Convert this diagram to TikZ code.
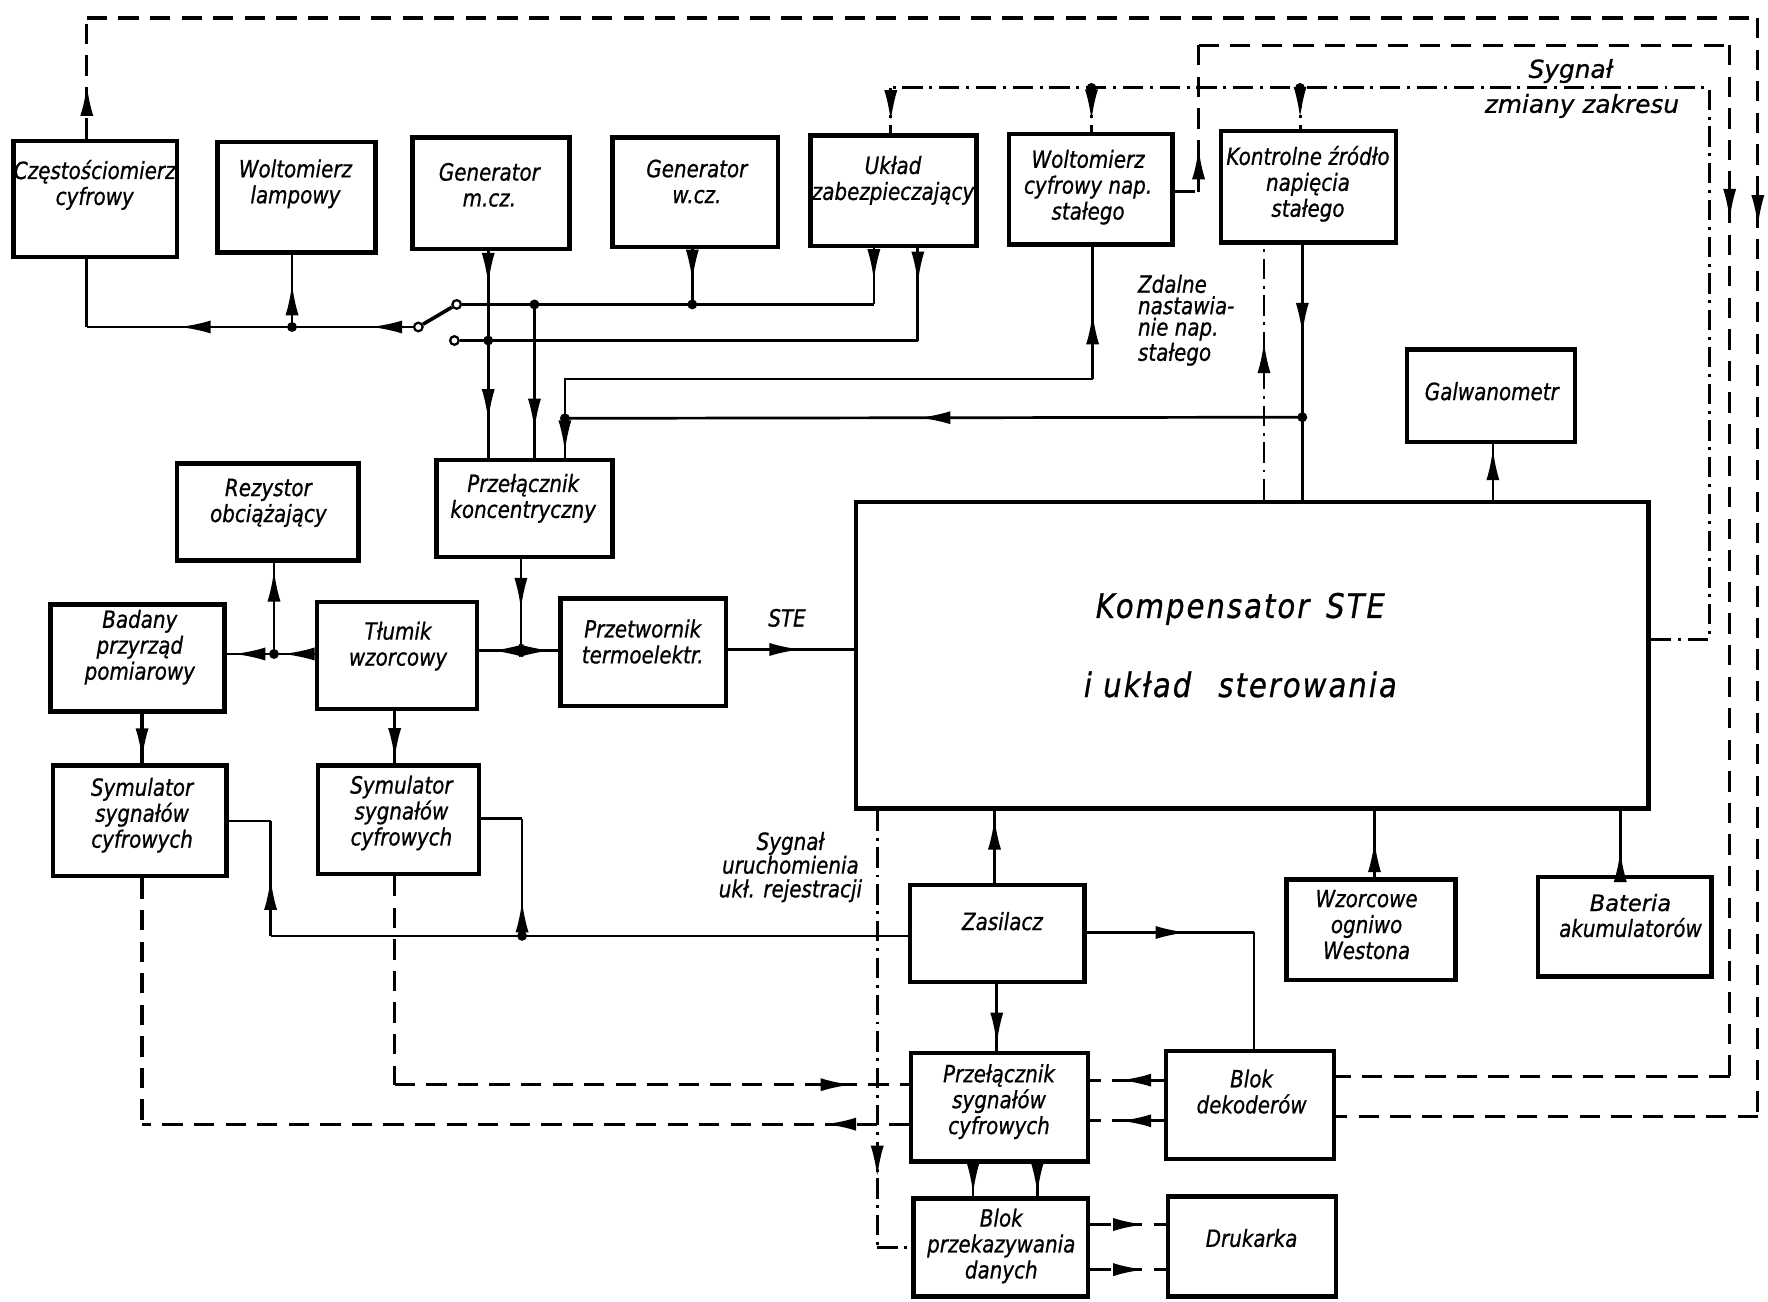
\documentclass[tikz,border=0pt]{standalone}
\usepackage{fontspec}
\newfontfamily\lab{DejaVu Sans}[FakeStretch=0.84,FakeBold=0.8]
\newfontfamily\labw{DejaVu Sans}[FakeBold=0.8]
\newfontfamily\labbig{DejaVu Sans}[FakeStretch=0.86,LetterSpace=6,FakeBold=0.8]
\usetikzlibrary{arrows.meta,decorations.markings}

\tikzset{
  box/.style={draw, rectangle, line width=2pt, inner sep=0pt},
  txt/.style={font=\lab\itshape\fontsize{10.5}{11.5}\selectfont, align=center, inner sep=0pt},
  txtw/.style={font=\labw\itshape\fontsize{11}{13}\selectfont, align=center, inner sep=0pt},
  conn/.style={line width=1.2pt},
  dsh/.style={line width=1.4pt, dash pattern=on 9pt off 5pt},
  dd/.style={line width=1.3pt, dash pattern=on 9pt off 3pt on 1.3pt off 3pt},
  ar/.style={postaction={decorate}, decoration={markings, mark=at position #1 with {\arrow{Latex[length=14pt,width=5.8pt]}}}},
  ar2/.style 2 args={postaction={decorate}, decoration={markings,
     mark=at position #1 with {\arrow{Latex[length=14pt,width=5.8pt]}},
     mark=at position #2 with {\arrow{Latex[length=14pt,width=5.8pt]}}}},
  jdot/.style={circle, fill=black, inner sep=0pt, minimum size=4.4pt},
  ocirc/.style={circle, draw, line width=1pt, fill=white, inner sep=0pt, minimum size=3.8pt},
}

\newcommand\bx[8]{%
  \node[box, minimum width={(#4-#2)*0.5pt}, minimum height={(#5-#3)*0.5pt}] (#1) at ({(#2+#4)/2},{(#3+#5)/2}) {};
  \node[txt] (#1t) at (#6,#7) {#8};}

\begin{document}
\begin{tikzpicture}[x=0.5pt,y=-0.5pt]
\useasboundingbox (0,0) rectangle (1568,1154);
\fill[white] (0,0) rectangle (1568,1154);

% ---------- boxes ----------
\bx{cz}{12}{125}{157}{228}{84}{164}{Częstościomierz\\cyfrowy}
\bx{wl}{193}{126}{333}{224}{262}{163}{Woltomierz\\lampowy}
\bx{gm}{366}{122}{505}{221}{434}{164}{Generator\\m.cz.}
\bx{gw}{543}{122}{690}{219}{618}{161}{Generator\\w.cz.}
\bx{uz}{719}{120}{866}{218}{792}{160}{Układ\\zabezpieczający}
\bx{wc}{895}{119}{1040}{217}{965}{166}{Woltomierz\\cyfrowy nap.\\stałego}
\bx{kz}{1083}{116}{1238}{215}{1160}{163}{Kontrolne źródło\\napięcia\\stałego}
\bx{ga}{1248}{310}{1397}{392}{1323}{347}{Galwanometr}
\bx{rz}{157}{411}{318}{497}{238}{446}{Rezystor\\obciążający}
\bx{pk}{387}{408}{543}{494}{464}{442}{Przełącznik\\koncentryczny}
\bx{bp}{45}{536}{199}{631}{124}{574}{Badany\\przyrząd\\pomiarowy}
\bx{tw}{281}{534}{423}{629}{353}{573}{Tłumik\\wzorcowy}
\bx{pt}{497}{531}{644}{626}{570}{569}{Przetwornik\\termoelektr.}
\bx{ks}{759}{445}{1462}{717}{1100}{573}{}
\bx{s1}{47}{679}{201}{777}{126}{723}{Symulator\\sygnałów\\cyfrowych}
\bx{s2}{282}{679}{425}{775}{356}{721}{Symulator\\sygnałów\\cyfrowych}
\bx{zs}{807}{785}{962}{871}{889}{817}{Zasilacz}
\bx{wo}{1141}{780}{1291}{869}{1212}{820}{Wzorcowe\\ogniwo\\Westona}
\bx{ba}{1364}{778}{1518}{866}{1446}{812}{\labw\itshape\fontsize{10}{11.5}\selectfont Bateria\\akumulatorów}
\bx{ps}{808}{934}{965}{1030}{886}{977}{Przełącznik\\sygnałów\\cyfrowych}
\bx{bd}{1034}{932}{1183}{1028}{1110}{968}{Blok\\dekoderów}
\bx{bpd}{810}{1063}{965}{1150}{888}{1105}{Blok\\przekazywania\\danych}
\bx{dr}{1036}{1061}{1185}{1150}{1110}{1098}{Drukarka}

\node[font=\labbig\itshape\fontsize{15}{18}\selectfont, inner sep=0pt] (ks1) at (1100,540) {Kompensator\hspace{0.5em}STE};
\node[font=\labbig\itshape\fontsize{15}{18}\selectfont, inner sep=0pt] (ks2) at (1100,607) {i układ\hspace{0.8em}sterowania};

% ---------- free labels ----------
\node[txt] (ste) at (698,548) {STE};
\node[txt, align=left, font=\lab\itshape\fontsize{10.5}{9.5}\selectfont] (zd) at (1052,284) {Zdalne\\nastawia-\\nie nap.\\stałego};
\node[txtw] (sg1) at (1393,63) {Sygnał};
\node[txtw] (sg2) at (1403,94) {zmiany zakresu};
\node[txt, font=\lab\itshape\fontsize{10.5}{10.5}\selectfont] (su) at (701,769) {Sygnał\\uruchomienia\\ukł. rejestracji};

% ---------- A: outer dashed loop ----------
\coordinate (a1) at (77,16);
\coordinate (a2) at (1559,16);
\coordinate (a3) at (1559,990);
\draw[dsh, ar=0.45] (cz.north -| a1) -- (a1);
\draw[dsh] (a1) -- (a2);
\draw[dsh, ar=0.19] (a2) -- (a3);
\draw[dsh] (a3) -- (bd.east |- a3);

% ---------- B: second dashed loop ----------
\coordinate (b1) at (1063,170);
\coordinate (b2) at (1063,40);
\coordinate (b3) at (1534,40);
\coordinate (b4) at (1534,955);
\draw[dsh] (wc.east |- b1) -- (b1);
\draw[dsh, ar=0.3] (b1) -- (b2);
\draw[dsh] (b2) -- (b3);
\draw[dsh, ar=0.17] (b3) -- (b4);
\draw[dsh] (b4) -- (bd.east |- b4);

% ---------- C: Sygnal zmiany zakresu ----------
\coordinate (c1) at (1516,567);
\coordinate (c2) at (1516,78);
\coordinate (c3) at (790,78);
\coordinate (c4) at (968,78);
\coordinate (c5) at (1153,78);
\draw[dd] (ks.east |- c1) -- (c1) -- (c2) -- (c3);
\draw[dd, ar=0.75] (c3) -- (uz.north -| c3);
\draw[dd, ar=0.75] (c4) -- (wc.north -| c4);
\draw[dd, ar=0.75] (c5) -- (kz.north -| c5);
\node[jdot] (c4d) at (c4) {};
\node[jdot] (c5d) at (c5) {};

% ---------- D: Zdalne nastawianie ----------
\coordinate (d1) at (1121,300);
\draw[dd, ar=0.62] (ks.north -| d1) -- (kz.south -| d1);

% ---------- E: Kontrolne zrodlo outputs ----------
\coordinate (e1) at (1155,370);
\coordinate (e2) at (501,371);
\coordinate (e3) at (501,336);
\coordinate (e4) at (969,336);
\draw[conn, ar=0.52] (kz.south -| e1) -- (e1);
\draw[conn] (e1) -- (ks.north -| e1);
\draw[conn, ar=0.52] (e1) -- (e2);
\draw[conn, ar=0.85] (e2) -- (pk.north -| e2);
\draw[conn] (e2) -- (e3) -- (e4);
\draw[conn, ar=0.5] (e4) -- (wc.south -| e4);
\node[jdot] (e1d) at (e1) {};
\node[jdot] (e2d) at (e2) {};

% ---------- F: generators and switch ----------
\node[ocirc] (sw0) at (371,290) {};
\node[ocirc] (sw1) at (405,270) {};
\node[ocirc] (sw2) at (403,302) {};
\draw[conn, line width=1.6pt] (sw0) -- (sw1);
\coordinate (f1) at (433,302);
\coordinate (f2) at (474,270);
\coordinate (f3) at (614,270);
\coordinate (f4) at (775,270);
\coordinate (f5) at (814,302);
\draw[conn, ar2={0.16}{0.82}] (gm.south -| f1) -- (pk.north -| f1);
\draw[conn] (sw1) -- (f2) -- (f3) -- (f4);
\draw[conn, ar=0.58] (uz.south -| f4) -- (f4);
\draw[conn, ar=0.58] (gw.south -| f3) -- (f3);
\draw[conn, ar=0.82] (f2) -- (pk.north -| f2);
\draw[conn] (sw2) -- (f1) -- (f5);
\draw[conn, ar=0.38] (uz.south -| f5) -- (f5);
\node[jdot] (f1d) at (f1) {};
\node[jdot] (f2d) at (f2) {};
\node[jdot] (f3d) at (f3) {};

\coordinate (g1) at (259,290);
\coordinate (g2) at (77,290);
\draw[conn, ar=0.35] (sw0) -- (g1);
\draw[conn, ar=0.55] (g1) -- (g2);
\draw[conn] (g2) -- (cz.south -| g2);
\draw[conn, ar=0.6] (g1) -- (wl.south -| g1);
\node[jdot] (g1d) at (g1) {};

% ---------- G: koncentryczny -> tlumik / przetwornik ----------
\coordinate (h1) at (462,577);
\draw[conn, ar=0.55] (pk.south -| h1) -- (h1);
\draw[conn, ar=0.7] (h1) -- (tw.east |- h1);
\draw[conn, ar=0.8] (h1) -- (pt.west |- h1);
\node[jdot] (h1d) at (h1) {};

% ---------- H: tlumik -> badany, rezystor ----------
\coordinate (i1) at (243,580);
\draw[conn, ar=0.78] (tw.west |- i1) -- (i1);
\draw[conn, ar=0.85] (i1) -- (bp.east |- i1);
\draw[conn, ar=0.92] (i1) -- (rz.south -| i1);
\node[jdot] (i1d) at (i1) {};

% ---------- I: dashed to simulators ----------
\coordinate (j1) at (126,655);
\coordinate (j2) at (350,655);
\draw[dsh, ar=0.93] (bp.south -| j1) -- (s1.north -| j1);
\draw[dsh, ar=0.93] (tw.south -| j2) -- (s2.north -| j2);

% ---------- J: zasilacz -> simulators ----------
\coordinate (k1) at (463,830);
\coordinate (k2) at (240,830);
\coordinate (k3) at (240,728);
\coordinate (k4) at (463,726);
\draw[conn] (zs.west |- k1) -- (k1) -- (k2);
\draw[conn, ar=0.5] (k2) -- (k3);
\draw[conn] (k3) -- (s1.east |- k3);
\draw[conn, ar=0.3] (k1) -- (k4);
\draw[conn] (k4) -- (s2.east |- k4);
\node[jdot] (k1d) at (k1) {};

% ---------- K: into kompensator / galwanometr ----------
\coordinate (l1) at (882,750);
\coordinate (l2) at (1219,750);
\coordinate (l3) at (1437,750);
\coordinate (l4) at (1324,420);
\draw[conn, ar=0.9] (zs.north -| l1) -- (ks.south -| l1);
\draw[conn, ar=0.55] (wo.north -| l2) -- (ks.south -| l2);
\draw[conn, ar=0.38] (ba.north -| l3) -- (ks.south -| l3);
\draw[conn, ar=0.92] (ks.north -| l4) -- (ga.south -| l4);

% ---------- L: zasilacz -> dekodery, przelacznik ----------
\coordinate (m1) at (1112,827);
\coordinate (m2) at (884,900);
\draw[conn, ar=0.6] (zs.east |- m1) -- (m1);
\draw[conn] (m1) -- (bd.north -| m1);
\draw[conn, ar=0.9] (zs.south -| m2) -- (ps.north -| m2);

% ---------- M: przelacznik -> blok przekazywania ----------
\coordinate (n1) at (863,1040);
\coordinate (n2) at (920,1040);
\draw[conn, ar=0.93] (ps.south -| n1) -- (bpd.north -| n1);
\draw[conn, ar=0.93] (ps.south -| n2) -- (bpd.north -| n2);

% ---------- N: STE ----------
\coordinate (o1) at (700,576);
\draw[conn, ar=0.58] (pt.east |- o1) -- (ks.west |- o1);

% ---------- O: Sygnal uruchomienia ----------
\coordinate (p1) at (778,1106);
\draw[dd, ar=0.84] (ks.south -| p1) -- (p1);
\draw[dd] (p1) -- (bpd.west |- p1);

% ---------- P: dashed simulators <-> przelacznik, dekodery ----------
\coordinate (q1) at (350,962);
\coordinate (q2) at (126,997);
\draw[dsh] (s2.south -| q1) -- (q1);
\draw[dsh, ar=0.89] (q1) -- (ps.west |- q1);
\draw[dsh] (s1.south -| q2) -- (q2);
\draw[dsh, ar=0.11] (ps.west |- q2) -- (q2);
\coordinate (r1) at (1000,958);
\coordinate (r2) at (1000,994);
\draw[dsh, ar=0.6] (bd.west |- r1) -- (ps.east |- r1);
\draw[dsh, ar=0.6] (bd.west |- r2) -- (ps.east |- r2);

% ---------- R: blok przekazywania -> drukarka ----------
\coordinate (u1) at (1000,1086);
\coordinate (u2) at (1000,1126);
\draw[dsh, ar=0.72] (bpd.east |- u1) -- (dr.west |- u1);
\draw[dsh, ar=0.72] (bpd.east |- u2) -- (dr.west |- u2);

\end{tikzpicture}
\end{document}
